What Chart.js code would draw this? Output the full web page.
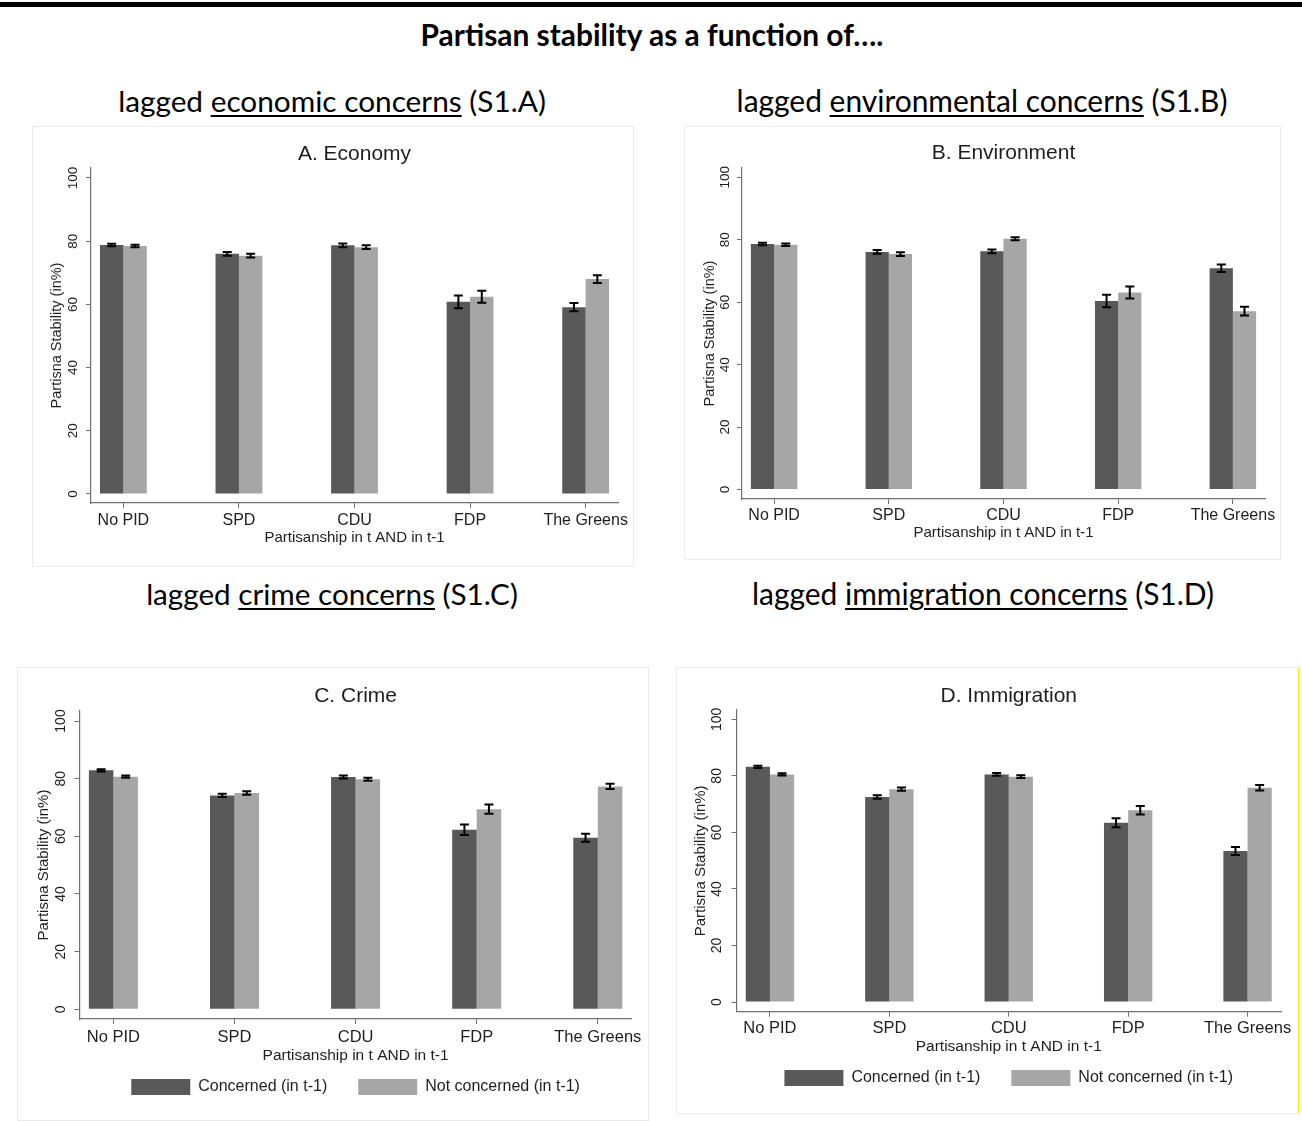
<!DOCTYPE html>
<html>
<head>
<meta charset="utf-8">
<script src="https://cdn.jsdelivr.net/npm/chart.js@4.4.1/dist/chart.umd.min.js"></script>
<style>
  html, body { margin: 0; padding: 0; background: #fff; }
  body { width: 1302px; height: 1121px; position: relative; overflow: hidden; }
  #topline { position: absolute; left: 0; top: 2px; width: 1302px; height: 5px; background: #000; }
  .head { position: absolute; white-space: nowrap; font-family: Lato, "Open Sans", sans-serif; color: #000; line-height: 1; font-size: 30px; }
  .head.main { font-weight: 700; }
  .head u { text-decoration-thickness: 2px; text-underline-offset: 3px; }
  .panel { position: absolute; box-sizing: border-box; border: 1px solid #ebebeb; background: #fff; }
  .panel canvas { position: absolute; left: 0; top: 0; }
  #panelD { border-right-color: #ffec00; }
</style>
</head>
<body>
<div id="topline"></div>
<div class="head main" data-cx="652" data-cy="35" data-w="463">Partisan stability as a function of….</div>
<div class="head" data-cx="332" data-cy="101" data-w="428">lagged <u>economic concerns</u> (S1.A)</div>
<div class="head" data-cx="982" data-cy="101" data-w="491">lagged <u>environmental concerns</u> (S1.B)</div>
<div class="head" data-cx="332" data-cy="594" data-w="372">lagged <u>crime concerns</u> (S1.C)</div>
<div class="head" data-cx="983" data-cy="594" data-w="462">lagged <u>immigration concerns</u> (S1.D)</div>

<div class="panel" id="panelA"><canvas id="chartA"></canvas></div>
<div class="panel" id="panelB"><canvas id="chartB"></canvas></div>
<div class="panel" id="panelC"><canvas id="chartC"></canvas></div>
<div class="panel" id="panelD"><canvas id="chartD"></canvas></div>

<script>
'use strict'

const categories = ['No PID', 'SPD', 'CDU', 'FDP', 'The Greens'];
const yTicks = [0, 20, 40, 60, 80, 100];
const seriesNames = ['Concerned (in t-1)', 'Not concerned (in t-1)'];

// A. Economy
const econConcerned = [78.8, 76.0, 78.7, 60.8, 59.1];
const econNotConcerned = [78.5, 75.4, 78.1, 62.4, 68.0];
const econConcernedErr = [0.4, 0.6, 0.6, 2.0, 1.3];
const econNotConcernedErr = [0.4, 0.6, 0.6, 1.9, 1.2];

// B. Environment
const envConcerned = [78.6, 76.1, 76.3, 60.4, 70.9];
const envNotConcerned = [78.4, 75.4, 80.3, 63.1, 57.1];
const envConcernedErr = [0.4, 0.6, 0.6, 2.0, 1.2];
const envNotConcernedErr = [0.4, 0.6, 0.5, 1.9, 1.4];

// C. Crime
const crimeConcerned = [82.9, 74.2, 80.6, 62.3, 59.5];
const crimeNotConcerned = [80.7, 75.0, 79.8, 69.4, 77.3];
const crimeConcernedErr = [0.4, 0.6, 0.5, 1.8, 1.4];
const crimeNotConcernedErr = [0.4, 0.6, 0.5, 1.6, 0.9];

// D. Immigration
const immConcerned = [83.2, 72.5, 80.5, 63.4, 53.4];
const immNotConcerned = [80.5, 75.3, 79.7, 67.8, 75.8];
const immConcernedErr = [0.4, 0.6, 0.5, 1.6, 1.4];
const immNotConcernedErr = [0.4, 0.6, 0.5, 1.5, 1.0];

const darkGrey = '#595959';
const lightGrey = '#a6a6a6';
const axisGrey = '#707070';
const textColor = '#1e1e1e';
const fontFamily = '"Liberation Sans", Arial, Helvetica, sans-serif';

// layout of each panel in page pixels (box border, plot area, text centres)
const panels = [
  {canvas: 'chartA', panel: 'panelA', title: 'A. Economy',
   values: [econConcerned, econNotConcerned], errors: [econConcernedErr, econNotConcernedErr],
   box: [32, 126, 633, 566], area: [91, 168, 618, 503], yMin: -2.85, yMax: 103.16,
   titleY: 154, yTitleX: 57, yTickX: 73.5, xLabelY: 521, xTitleY: 538, legendTop: null,
   fs: {title: 21, tick: 13.5, cat: 16, xTitle: 15, yTitle: 14.5}},
  {canvas: 'chartB', panel: 'panelB', title: 'B. Environment',
   values: [envConcerned, envNotConcerned], errors: [envConcernedErr, envNotConcernedErr],
   box: [684, 126, 1280, 559], area: [742, 168, 1265, 499], yMin: -3.04, yMax: 102.98,
   titleY: 153, yTitleX: 710, yTickX: 725, xLabelY: 516, xTitleY: 533, legendTop: null,
   fs: {title: 21, tick: 13.5, cat: 16, xTitle: 15, yTitle: 14.5}},
  {canvas: 'chartC', panel: 'panelC', title: 'C. Crime',
   values: [crimeConcerned, crimeNotConcerned], errors: [crimeConcernedErr, crimeNotConcernedErr],
   box: [17, 667, 648, 1120], area: [79.5, 711, 631.7, 1019], yMin: -3.36, yMax: 103.47,
   titleY: 696, yTitleX: 43.5, yTickX: 61, xLabelY: 1037, xTitleY: 1056, legendTop: 1079,
   fs: {title: 21, tick: 14, cat: 16.5, xTitle: 15.5, yTitle: 15}},
  {canvas: 'chartD', panel: 'panelD', title: 'D. Immigration',
   values: [immConcerned, immNotConcerned], errors: [immConcernedErr, immNotConcernedErr],
   box: [676, 667, 1298, 1113], area: [736.5, 710, 1281, 1011.7], yMin: -3.43, yMax: 103.29,
   titleY: 696, yTitleX: 700.5, yTickX: 717, xLabelY: 1028, xTitleY: 1047, legendTop: 1070,
   fs: {title: 21, tick: 14, cat: 16.5, xTitle: 15.5, yTitle: 15}}
];

const tickLen = 5;
const legendPadding = 31;
const legendBox = {w: 59, h: 16, font: 16};

const measureCtx = document.createElement('canvas').getContext('2d');
function textWidth(txt, size) {
  measureCtx.font = size + 'px ' + fontFamily;
  return measureCtx.measureText(txt).width;
}

// error bars drawn from the bar elements and the y scale
const errorBars = {
  id: 'errorBars',
  afterDatasetsDraw(chart) {
    const ctx = chart.ctx;
    const yScale = chart.scales.y;
    chart.data.datasets.forEach((ds, i) => {
      const meta = chart.getDatasetMeta(i);
      meta.data.forEach((bar, j) => {
        const v = ds.data[j].y;
        const e = ds.errors[j];
        const top = yScale.getPixelForValue(v + e);
        const bot = yScale.getPixelForValue(v - e);
        ctx.save();
        ctx.strokeStyle = '#000';
        ctx.lineWidth = 2;
        ctx.beginPath();
        ctx.moveTo(bar.x, top); ctx.lineTo(bar.x, bot);
        ctx.moveTo(bar.x - 4.5, top); ctx.lineTo(bar.x + 4.5, top);
        ctx.moveTo(bar.x - 4.5, bot); ctx.lineTo(bar.x + 4.5, bot);
        ctx.stroke();
        ctx.restore();
      });
    });
  }
};

function makeChart(p) {
  const div = document.getElementById(p.panel);
  div.style.left = p.box[0] + 'px';
  div.style.top = p.box[1] + 'px';
  div.style.width = (p.box[2] - p.box[0] + 1) + 'px';
  div.style.height = (p.box[3] - p.box[1] + 1) + 'px';

  const ox = p.box[0] + 1, oy = p.box[1] + 1;
  const W = p.box[2] - p.box[0] - 1, H = p.box[3] - p.box[1] - 1;
  const canvas = document.getElementById(p.canvas);
  canvas.width = W;
  canvas.height = H;

  const L = p.area[0] - ox, T = p.area[1] - oy, R = p.area[2] - ox, B = p.area[3] - oy;
  const padLeft = 4;
  const hasLegend = p.legendTop !== null;
  let padBottom = 0, xBottom = H;
  if (hasLegend) {
    padBottom = H - 26 - (p.legendTop - oy);
    xBottom = (p.legendTop - oy) - legendPadding;
  }
  const widest = textWidth('100', p.fs.tick);

  const datasets = p.values.map((vals, k) => ({
    label: seriesNames[k],
    data: vals.map((v, i) => ({x: i, y: v})),
    errors: p.errors[k],
    backgroundColor: k === 0 ? darkGrey : lightGrey,
    borderWidth: 0,
    categoryPercentage: 0.405,
    barPercentage: 1.0
  }));

  return new Chart(canvas, {
    type: 'bar',
    data: {datasets: datasets},
    plugins: [errorBars],
    options: {
      responsive: false,
      animation: false,
      layout: {padding: {left: padLeft, right: W - R, top: 0, bottom: padBottom}},
      plugins: {
        title: {
          display: true, text: p.title, fullSize: false, color: textColor,
          font: {family: fontFamily, size: p.fs.title, weight: 'normal'},
          padding: {top: (p.titleY - oy) - 0.6 * p.fs.title, bottom: T - (p.titleY - oy) - 0.6 * p.fs.title}
        },
        legend: {
          display: hasLegend, position: 'bottom', fullSize: false,
          labels: {
            boxWidth: legendBox.w, boxHeight: legendBox.h, padding: legendPadding, color: textColor,
            font: {family: fontFamily, size: legendBox.font}
          }
        },
        tooltip: {enabled: false}
      },
      scales: {
        x: {
          type: 'linear', min: -0.28, max: 4.28, bounds: 'data', offset: false,
          afterBuildTicks: s => { s.ticks = categories.map((c, i) => ({value: i})); },
          afterFit: s => { s.height = xBottom - B; },
          grid: {offset: false, drawOnChartArea: false, drawTicks: true, tickLength: tickLen, color: axisGrey},
          border: {display: true, color: axisGrey, width: 1.2},
          ticks: {
            autoSkip: false, maxRotation: 0, minRotation: 0, color: textColor,
            padding: (p.xLabelY - p.area[3]) - tickLen - 0.6 * p.fs.cat,
            font: {family: fontFamily, size: p.fs.cat},
            callback: v => categories[v]
          },
          title: {
            display: true, text: 'Partisanship in t AND in t-1', color: textColor,
            font: {family: fontFamily, size: p.fs.xTitle},
            padding: {top: 0, bottom: xBottom - 0.6 * p.fs.xTitle - (p.xTitleY - oy)}
          }
        },
        y: {
          type: 'linear', min: p.yMin, max: p.yMax, bounds: 'data',
          afterBuildTicks: s => { s.ticks = yTicks.map(v => ({value: v})); },
          afterFit: s => { s.width = L - padLeft; },
          grid: {drawOnChartArea: false, drawTicks: true, tickLength: tickLen, color: axisGrey},
          border: {display: true, color: axisGrey, width: 1.2},
          ticks: {
            minRotation: 90, maxRotation: 90, crossAlign: 'center', color: textColor,
            padding: (p.area[0] - p.yTickX) - tickLen - widest / 2,
            font: {family: fontFamily, size: p.fs.tick},
            callback: v => String(v)
          },
          title: {
            display: true, text: 'Partisna Stability (in%)', color: textColor,
            font: {family: fontFamily, size: p.fs.yTitle},
            padding: {top: (p.yTitleX - ox) - padLeft - 0.6 * p.fs.yTitle, bottom: 0}
          }
        }
      }
    }
  });
}

function placeHeads() {
  document.querySelectorAll('.head').forEach(el => {
    el.style.fontSize = '30px';
    const w = el.getBoundingClientRect().width;
    el.style.fontSize = (30 * Number(el.dataset.w) / w) + 'px';
    const r = el.getBoundingClientRect();
    el.style.left = (Number(el.dataset.cx) - r.width / 2) + 'px';
    el.style.top = (Number(el.dataset.cy) - r.height / 2) + 'px';
  });
}

placeHeads();
panels.forEach(makeChart);
if (document.fonts && document.fonts.ready) document.fonts.ready.then(placeHeads);
</script>
</body>
</html>
